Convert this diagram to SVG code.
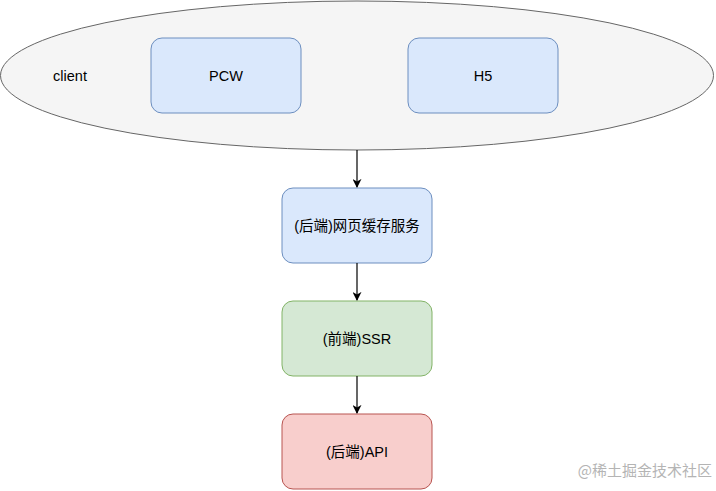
<svg xmlns="http://www.w3.org/2000/svg" width="716" height="491" viewBox="0 0 716 491">
<style>
text{font-family:"Liberation Sans",Arial,"Noto Sans CJK SC",sans-serif;font-size:14.5px;fill:#000;text-anchor:middle;dominant-baseline:central}
.blue{fill:#dae8fc;stroke:#6c8ebf;stroke-width:1}
.green{fill:#d5e8d4;stroke:#82b366;stroke-width:1}
.red{fill:#f8cecc;stroke:#b85450;stroke-width:1}
.edge{stroke:#000;stroke-width:1.2;fill:none}
.wm{fill:#b4b4b4;font-size:15px;font-family:"Noto Sans CJK SC",sans-serif;text-anchor:end}
</style>
<defs>
<marker id="arr" viewBox="0 0 10 10" refX="9" refY="5" markerWidth="9" markerHeight="9" markerUnits="userSpaceOnUse" orient="auto">
<path d="M0,0 L10,5 L0,10 L3,5 Z" fill="#000"/>
</marker>
</defs>
<rect width="716" height="491" fill="#fff"/>
<g id="client">
<ellipse cx="357" cy="75.5" rx="356.5" ry="74.5" fill="#f5f5f5" stroke="#666666"/>
<text x="70" y="76">client</text>
</g>
<g id="pcw">
<rect class="blue" x="151" y="38" width="150" height="75" rx="11"/>
<text x="226" y="76">PCW</text>
</g>
<g id="h5">
<rect class="blue" x="408" y="38" width="150" height="75" rx="11"/>
<text x="483" y="76">H5</text>
</g>
<g id="cache">
<rect class="blue" x="282" y="188" width="150" height="75" rx="11"/>
<text x="357" y="226">(后端)网页缓存服务</text>
</g>
<g id="ssr">
<rect class="green" x="282" y="301" width="150" height="75" rx="11"/>
<text x="357" y="339">(前端)SSR</text>
</g>
<g id="api">
<rect class="red" x="282" y="414" width="150" height="75" rx="11"/>
<text x="357" y="452">(后端)API</text>
</g>
<g id="connectors">
<path class="edge" d="M357,150 L357,187" marker-end="url(#arr)"/>
<path class="edge" d="M357,263 L357,300" marker-end="url(#arr)"/>
<path class="edge" d="M357,376 L357,413" marker-end="url(#arr)"/>
</g>
<text class="wm" x="712" y="469">@稀土掘金技术社区</text>
</svg>
